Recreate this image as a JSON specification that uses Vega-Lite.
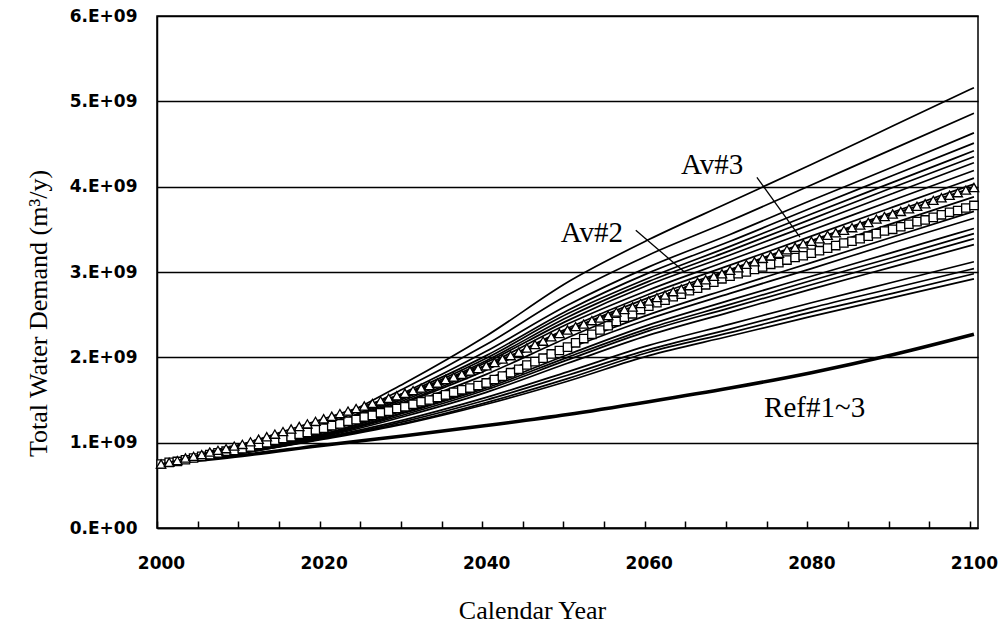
{
"$schema": "https://vega.github.io/schema/vega-lite/v6.json",
"width": 821, "height": 512,
"autosize": "none",
"padding": {"left": 157, "top": 16, "right": 25, "bottom": 103},
"background": "white",
"config": {
  "view": {"stroke": "black", "strokeWidth": 1.5},
  "axis": {"labelFont": "DejaVu Sans", "labelFontWeight": "bold", "labelFontSize": 17, "labelColor": "black",
           "titleFont": "Liberation Serif", "titleFontWeight": "normal", "titleColor": "black",
           "domainColor": "black", "domainWidth": 1.5, "tickColor": "black", "tickWidth": 1.5}
},
"datasets": {
"thin": [
{"s":"L1","year":2000,"value":0.75e9},{"s":"L1","year":2010,"value":0.95e9},{"s":"L1","year":2020,"value":1.22e9},{"s":"L1","year":2030,"value":1.70e9},{"s":"L1","year":2040,"value":2.25e9},{"s":"L1","year":2050,"value":2.88e9},{"s":"L1","year":2060,"value":3.38e9},{"s":"L1","year":2070,"value":3.82e9},{"s":"L1","year":2080,"value":4.26e9},{"s":"L1","year":2090,"value":4.71e9},{"s":"L1","year":2100,"value":5.16e9},
{"s":"L2","year":2000,"value":0.75e9},{"s":"L2","year":2010,"value":0.94e9},{"s":"L2","year":2020,"value":1.20e9},{"s":"L2","year":2030,"value":1.64e9},{"s":"L2","year":2040,"value":2.15e9},{"s":"L2","year":2050,"value":2.73e9},{"s":"L2","year":2060,"value":3.20e9},{"s":"L2","year":2070,"value":3.60e9},{"s":"L2","year":2080,"value":4.02e9},{"s":"L2","year":2090,"value":4.44e9},{"s":"L2","year":2100,"value":4.86e9},
{"s":"L3","year":2000,"value":0.75e9},{"s":"L3","year":2010,"value":0.93e9},{"s":"L3","year":2020,"value":1.18e9},{"s":"L3","year":2030,"value":1.59e9},{"s":"L3","year":2040,"value":2.07e9},{"s":"L3","year":2050,"value":2.61e9},{"s":"L3","year":2060,"value":3.06e9},{"s":"L3","year":2070,"value":3.44e9},{"s":"L3","year":2080,"value":3.84e9},{"s":"L3","year":2090,"value":4.23e9},{"s":"L3","year":2100,"value":4.63e9},
{"s":"L4","year":2000,"value":0.75e9},{"s":"L4","year":2010,"value":0.93e9},{"s":"L4","year":2020,"value":1.17e9},{"s":"L4","year":2030,"value":1.57e9},{"s":"L4","year":2040,"value":2.02e9},{"s":"L4","year":2050,"value":2.55e9},{"s":"L4","year":2060,"value":2.99e9},{"s":"L4","year":2070,"value":3.36e9},{"s":"L4","year":2080,"value":3.75e9},{"s":"L4","year":2090,"value":4.13e9},{"s":"L4","year":2100,"value":4.51e9},
{"s":"L5","year":2000,"value":0.75e9},{"s":"L5","year":2010,"value":0.93e9},{"s":"L5","year":2020,"value":1.16e9},{"s":"L5","year":2030,"value":1.55e9},{"s":"L5","year":2040,"value":1.99e9},{"s":"L5","year":2050,"value":2.51e9},{"s":"L5","year":2060,"value":2.93e9},{"s":"L5","year":2070,"value":3.30e9},{"s":"L5","year":2080,"value":3.68e9},{"s":"L5","year":2090,"value":4.05e9},{"s":"L5","year":2100,"value":4.42e9},
{"s":"L6","year":2000,"value":0.75e9},{"s":"L6","year":2010,"value":0.92e9},{"s":"L6","year":2020,"value":1.15e9},{"s":"L6","year":2030,"value":1.53e9},{"s":"L6","year":2040,"value":1.96e9},{"s":"L6","year":2050,"value":2.47e9},{"s":"L6","year":2060,"value":2.89e9},{"s":"L6","year":2070,"value":3.25e9},{"s":"L6","year":2080,"value":3.62e9},{"s":"L6","year":2090,"value":3.99e9},{"s":"L6","year":2100,"value":4.35e9},
{"s":"L7","year":2000,"value":0.75e9},{"s":"L7","year":2010,"value":0.92e9},{"s":"L7","year":2020,"value":1.15e9},{"s":"L7","year":2030,"value":1.52e9},{"s":"L7","year":2040,"value":1.94e9},{"s":"L7","year":2050,"value":2.43e9},{"s":"L7","year":2060,"value":2.85e9},{"s":"L7","year":2070,"value":3.20e9},{"s":"L7","year":2080,"value":3.56e9},{"s":"L7","year":2090,"value":3.92e9},{"s":"L7","year":2100,"value":4.28e9},
{"s":"L8","year":2000,"value":0.75e9},{"s":"L8","year":2010,"value":0.92e9},{"s":"L8","year":2020,"value":1.14e9},{"s":"L8","year":2030,"value":1.50e9},{"s":"L8","year":2040,"value":1.91e9},{"s":"L8","year":2050,"value":2.39e9},{"s":"L8","year":2060,"value":2.79e9},{"s":"L8","year":2070,"value":3.14e9},{"s":"L8","year":2080,"value":3.49e9},{"s":"L8","year":2090,"value":3.84e9},{"s":"L8","year":2100,"value":4.19e9},
{"s":"L9","year":2000,"value":0.75e9},{"s":"L9","year":2010,"value":0.92e9},{"s":"L9","year":2020,"value":1.13e9},{"s":"L9","year":2030,"value":1.48e9},{"s":"L9","year":2040,"value":1.88e9},{"s":"L9","year":2050,"value":2.34e9},{"s":"L9","year":2060,"value":2.74e9},{"s":"L9","year":2070,"value":3.08e9},{"s":"L9","year":2080,"value":3.42e9},{"s":"L9","year":2090,"value":3.76e9},{"s":"L9","year":2100,"value":4.10e9},
{"s":"L10","year":2000,"value":0.75e9},{"s":"L10","year":2010,"value":0.91e9},{"s":"L10","year":2020,"value":1.13e9},{"s":"L10","year":2030,"value":1.47e9},{"s":"L10","year":2040,"value":1.85e9},{"s":"L10","year":2050,"value":2.31e9},{"s":"L10","year":2060,"value":2.70e9},{"s":"L10","year":2070,"value":3.03e9},{"s":"L10","year":2080,"value":3.37e9},{"s":"L10","year":2090,"value":3.70e9},{"s":"L10","year":2100,"value":4.03e9},
{"s":"L11","year":2000,"value":0.75e9},{"s":"L11","year":2010,"value":0.91e9},{"s":"L11","year":2020,"value":1.12e9},{"s":"L11","year":2030,"value":1.44e9},{"s":"L11","year":2040,"value":1.80e9},{"s":"L11","year":2050,"value":2.23e9},{"s":"L11","year":2060,"value":2.61e9},{"s":"L11","year":2070,"value":2.93e9},{"s":"L11","year":2080,"value":3.25e9},{"s":"L11","year":2090,"value":3.57e9},{"s":"L11","year":2100,"value":3.88e9},
{"s":"L12","year":2000,"value":0.75e9},{"s":"L12","year":2010,"value":0.90e9},{"s":"L12","year":2020,"value":1.10e9},{"s":"L12","year":2030,"value":1.40e9},{"s":"L12","year":2040,"value":1.74e9},{"s":"L12","year":2050,"value":2.14e9},{"s":"L12","year":2060,"value":2.50e9},{"s":"L12","year":2070,"value":2.81e9},{"s":"L12","year":2080,"value":3.11e9},{"s":"L12","year":2090,"value":3.41e9},{"s":"L12","year":2100,"value":3.71e9},
{"s":"L13","year":2000,"value":0.75e9},{"s":"L13","year":2010,"value":0.90e9},{"s":"L13","year":2020,"value":1.10e9},{"s":"L13","year":2030,"value":1.38e9},{"s":"L13","year":2040,"value":1.71e9},{"s":"L13","year":2050,"value":2.10e9},{"s":"L13","year":2060,"value":2.45e9},{"s":"L13","year":2070,"value":2.75e9},{"s":"L13","year":2080,"value":3.04e9},{"s":"L13","year":2090,"value":3.34e9},{"s":"L13","year":2100,"value":3.63e9},
{"s":"L14","year":2000,"value":0.75e9},{"s":"L14","year":2010,"value":0.90e9},{"s":"L14","year":2020,"value":1.09e9},{"s":"L14","year":2030,"value":1.36e9},{"s":"L14","year":2040,"value":1.66e9},{"s":"L14","year":2050,"value":2.03e9},{"s":"L14","year":2060,"value":2.38e9},{"s":"L14","year":2070,"value":2.67e9},{"s":"L14","year":2080,"value":2.95e9},{"s":"L14","year":2090,"value":3.23e9},{"s":"L14","year":2100,"value":3.51e9},
{"s":"L15","year":2000,"value":0.75e9},{"s":"L15","year":2010,"value":0.90e9},{"s":"L15","year":2020,"value":1.08e9},{"s":"L15","year":2030,"value":1.35e9},{"s":"L15","year":2040,"value":1.64e9},{"s":"L15","year":2050,"value":2.00e9},{"s":"L15","year":2060,"value":2.34e9},{"s":"L15","year":2070,"value":2.62e9},{"s":"L15","year":2080,"value":2.90e9},{"s":"L15","year":2090,"value":3.17e9},{"s":"L15","year":2100,"value":3.45e9},
{"s":"L16","year":2000,"value":0.75e9},{"s":"L16","year":2010,"value":0.89e9},{"s":"L16","year":2020,"value":1.08e9},{"s":"L16","year":2030,"value":1.33e9},{"s":"L16","year":2040,"value":1.62e9},{"s":"L16","year":2050,"value":1.97e9},{"s":"L16","year":2060,"value":2.31e9},{"s":"L16","year":2070,"value":2.58e9},{"s":"L16","year":2080,"value":2.85e9},{"s":"L16","year":2090,"value":3.12e9},{"s":"L16","year":2100,"value":3.39e9},
{"s":"L17","year":2000,"value":0.75e9},{"s":"L17","year":2010,"value":0.89e9},{"s":"L17","year":2020,"value":1.07e9},{"s":"L17","year":2030,"value":1.31e9},{"s":"L17","year":2040,"value":1.59e9},{"s":"L17","year":2050,"value":1.93e9},{"s":"L17","year":2060,"value":2.26e9},{"s":"L17","year":2070,"value":2.53e9},{"s":"L17","year":2080,"value":2.80e9},{"s":"L17","year":2090,"value":3.06e9},{"s":"L17","year":2100,"value":3.32e9},
{"s":"L18","year":2000,"value":0.75e9},{"s":"L18","year":2010,"value":0.89e9},{"s":"L18","year":2020,"value":1.06e9},{"s":"L18","year":2030,"value":1.27e9},{"s":"L18","year":2040,"value":1.53e9},{"s":"L18","year":2050,"value":1.83e9},{"s":"L18","year":2060,"value":2.14e9},{"s":"L18","year":2070,"value":2.39e9},{"s":"L18","year":2080,"value":2.64e9},{"s":"L18","year":2090,"value":2.88e9},{"s":"L18","year":2100,"value":3.12e9},
{"s":"L19","year":2000,"value":0.75e9},{"s":"L19","year":2010,"value":0.88e9},{"s":"L19","year":2020,"value":1.05e9},{"s":"L19","year":2030,"value":1.25e9},{"s":"L19","year":2040,"value":1.50e9},{"s":"L19","year":2050,"value":1.79e9},{"s":"L19","year":2060,"value":2.09e9},{"s":"L19","year":2070,"value":2.33e9},{"s":"L19","year":2080,"value":2.58e9},{"s":"L19","year":2090,"value":2.81e9},{"s":"L19","year":2100,"value":3.04e9},
{"s":"L20","year":2000,"value":0.75e9},{"s":"L20","year":2010,"value":0.88e9},{"s":"L20","year":2020,"value":1.05e9},{"s":"L20","year":2030,"value":1.23e9},{"s":"L20","year":2040,"value":1.47e9},{"s":"L20","year":2050,"value":1.75e9},{"s":"L20","year":2060,"value":2.06e9},{"s":"L20","year":2070,"value":2.29e9},{"s":"L20","year":2080,"value":2.53e9},{"s":"L20","year":2090,"value":2.75e9},{"s":"L20","year":2100,"value":2.98e9},
{"s":"L21","year":2000,"value":0.75e9},{"s":"L21","year":2010,"value":0.88e9},{"s":"L21","year":2020,"value":1.04e9},{"s":"L21","year":2030,"value":1.22e9},{"s":"L21","year":2040,"value":1.45e9},{"s":"L21","year":2050,"value":1.72e9},{"s":"L21","year":2060,"value":2.02e9},{"s":"L21","year":2070,"value":2.25e9},{"s":"L21","year":2080,"value":2.48e9},{"s":"L21","year":2090,"value":2.70e9},{"s":"L21","year":2100,"value":2.92e9}
],
"ref": [
{"year":2000,"value":0.75e9},{"year":2010,"value":0.85e9},{"year":2020,"value":0.97e9},{"year":2030,"value":1.08e9},{"year":2040,"value":1.20e9},{"year":2050,"value":1.33e9},{"year":2060,"value":1.48e9},{"year":2070,"value":1.64e9},{"year":2080,"value":1.82e9},{"year":2090,"value":2.03e9},{"year":2100,"value":2.27e9}
],
"av2": [
{"year":2000,"value":0.75e9},{"year":2001,"value":0.77e9},{"year":2002,"value":0.78e9},{"year":2003,"value":0.80e9},{"year":2004,"value":0.82e9},{"year":2005,"value":0.84e9},{"year":2006,"value":0.86e9},{"year":2007,"value":0.88e9},{"year":2008,"value":0.90e9},{"year":2009,"value":0.91e9},
{"year":2010,"value":0.93e9},{"year":2011,"value":0.95e9},{"year":2012,"value":0.98e9},{"year":2013,"value":1.00e9},{"year":2014,"value":1.03e9},{"year":2015,"value":1.05e9},{"year":2016,"value":1.07e9},{"year":2017,"value":1.10e9},{"year":2018,"value":1.12e9},{"year":2019,"value":1.15e9},
{"year":2020,"value":1.17e9},{"year":2021,"value":1.20e9},{"year":2022,"value":1.22e9},{"year":2023,"value":1.25e9},{"year":2024,"value":1.27e9},{"year":2025,"value":1.30e9},{"year":2026,"value":1.32e9},{"year":2027,"value":1.35e9},{"year":2028,"value":1.37e9},{"year":2029,"value":1.40e9},
{"year":2030,"value":1.42e9},{"year":2031,"value":1.45e9},{"year":2032,"value":1.48e9},{"year":2033,"value":1.50e9},{"year":2034,"value":1.53e9},{"year":2035,"value":1.56e9},{"year":2036,"value":1.59e9},{"year":2037,"value":1.62e9},{"year":2038,"value":1.64e9},{"year":2039,"value":1.67e9},
{"year":2040,"value":1.70e9},{"year":2041,"value":1.74e9},{"year":2042,"value":1.78e9},{"year":2043,"value":1.82e9},{"year":2044,"value":1.86e9},{"year":2045,"value":1.91e9},{"year":2046,"value":1.95e9},{"year":2047,"value":1.99e9},{"year":2048,"value":2.04e9},{"year":2049,"value":2.08e9},
{"year":2050,"value":2.12e9},{"year":2051,"value":2.17e9},{"year":2052,"value":2.22e9},{"year":2053,"value":2.27e9},{"year":2054,"value":2.32e9},{"year":2055,"value":2.37e9},{"year":2056,"value":2.42e9},{"year":2057,"value":2.47e9},{"year":2058,"value":2.51e9},{"year":2059,"value":2.56e9},
{"year":2060,"value":2.60e9},{"year":2061,"value":2.64e9},{"year":2062,"value":2.67e9},{"year":2063,"value":2.71e9},{"year":2064,"value":2.74e9},{"year":2065,"value":2.78e9},{"year":2066,"value":2.81e9},{"year":2067,"value":2.85e9},{"year":2068,"value":2.88e9},{"year":2069,"value":2.92e9},
{"year":2070,"value":2.95e9},{"year":2071,"value":2.98e9},{"year":2072,"value":3.00e9},{"year":2073,"value":3.03e9},{"year":2074,"value":3.06e9},{"year":2075,"value":3.09e9},{"year":2076,"value":3.11e9},{"year":2077,"value":3.14e9},{"year":2078,"value":3.17e9},{"year":2079,"value":3.19e9},
{"year":2080,"value":3.22e9},{"year":2081,"value":3.25e9},{"year":2082,"value":3.28e9},{"year":2083,"value":3.31e9},{"year":2084,"value":3.34e9},{"year":2085,"value":3.36e9},{"year":2086,"value":3.39e9},{"year":2087,"value":3.42e9},{"year":2088,"value":3.45e9},{"year":2089,"value":3.48e9},
{"year":2090,"value":3.50e9},{"year":2091,"value":3.53e9},{"year":2092,"value":3.56e9},{"year":2093,"value":3.59e9},{"year":2094,"value":3.61e9},{"year":2095,"value":3.64e9},{"year":2096,"value":3.67e9},{"year":2097,"value":3.70e9},{"year":2098,"value":3.72e9},{"year":2099,"value":3.75e9},
{"year":2100,"value":3.78e9}
],
"av3": [
{"year":2000,"value":0.75e9},{"year":2001,"value":0.77e9},{"year":2002,"value":0.79e9},{"year":2003,"value":0.82e9},{"year":2004,"value":0.84e9},{"year":2005,"value":0.86e9},{"year":2006,"value":0.89e9},{"year":2007,"value":0.91e9},{"year":2008,"value":0.93e9},{"year":2009,"value":0.96e9},
{"year":2010,"value":0.98e9},{"year":2011,"value":1.01e9},{"year":2012,"value":1.04e9},{"year":2013,"value":1.07e9},{"year":2014,"value":1.10e9},{"year":2015,"value":1.13e9},{"year":2016,"value":1.16e9},{"year":2017,"value":1.19e9},{"year":2018,"value":1.22e9},{"year":2019,"value":1.25e9},
{"year":2020,"value":1.28e9},{"year":2021,"value":1.31e9},{"year":2022,"value":1.34e9},{"year":2023,"value":1.37e9},{"year":2024,"value":1.40e9},{"year":2025,"value":1.43e9},{"year":2026,"value":1.46e9},{"year":2027,"value":1.49e9},{"year":2028,"value":1.52e9},{"year":2029,"value":1.55e9},
{"year":2030,"value":1.58e9},{"year":2031,"value":1.61e9},{"year":2032,"value":1.64e9},{"year":2033,"value":1.67e9},{"year":2034,"value":1.70e9},{"year":2035,"value":1.74e9},{"year":2036,"value":1.77e9},{"year":2037,"value":1.80e9},{"year":2038,"value":1.84e9},{"year":2039,"value":1.87e9},
{"year":2040,"value":1.90e9},{"year":2041,"value":1.94e9},{"year":2042,"value":1.98e9},{"year":2043,"value":2.02e9},{"year":2044,"value":2.06e9},{"year":2045,"value":2.11e9},{"year":2046,"value":2.15e9},{"year":2047,"value":2.19e9},{"year":2048,"value":2.24e9},{"year":2049,"value":2.28e9},
{"year":2050,"value":2.32e9},{"year":2051,"value":2.36e9},{"year":2052,"value":2.39e9},{"year":2053,"value":2.43e9},{"year":2054,"value":2.46e9},{"year":2055,"value":2.49e9},{"year":2056,"value":2.53e9},{"year":2057,"value":2.56e9},{"year":2058,"value":2.59e9},{"year":2059,"value":2.63e9},
{"year":2060,"value":2.66e9},{"year":2061,"value":2.70e9},{"year":2062,"value":2.73e9},{"year":2063,"value":2.77e9},{"year":2064,"value":2.80e9},{"year":2065,"value":2.84e9},{"year":2066,"value":2.88e9},{"year":2067,"value":2.91e9},{"year":2068,"value":2.95e9},{"year":2069,"value":2.98e9},
{"year":2070,"value":3.02e9},{"year":2071,"value":3.05e9},{"year":2072,"value":3.09e9},{"year":2073,"value":3.12e9},{"year":2074,"value":3.16e9},{"year":2075,"value":3.19e9},{"year":2076,"value":3.22e9},{"year":2077,"value":3.26e9},{"year":2078,"value":3.29e9},{"year":2079,"value":3.33e9},
{"year":2080,"value":3.36e9},{"year":2081,"value":3.39e9},{"year":2082,"value":3.43e9},{"year":2083,"value":3.46e9},{"year":2084,"value":3.49e9},{"year":2085,"value":3.52e9},{"year":2086,"value":3.55e9},{"year":2087,"value":3.58e9},{"year":2088,"value":3.62e9},{"year":2089,"value":3.65e9},
{"year":2090,"value":3.68e9},{"year":2091,"value":3.71e9},{"year":2092,"value":3.74e9},{"year":2093,"value":3.77e9},{"year":2094,"value":3.80e9},{"year":2095,"value":3.84e9},{"year":2096,"value":3.87e9},{"year":2097,"value":3.90e9},{"year":2098,"value":3.93e9},{"year":2099,"value":3.96e9},
{"year":2100,"value":3.99e9}
],
"notes": [
{"label":"Av#3","year":2067.8,"value":4.25e9},
{"label":"Av#2","year":2053.0,"value":3.46e9},
{"label":"Ref#1~3","year":2080.4,"value":1.41e9}
],
"arrows": [
{"label":"Av#3","year":2073.3,"value":4.11e9,"year2":2078.6,"value2":3.41e9},
{"label":"Av#2","year":2058.4,"value":3.49e9,"year2":2064.5,"value2":2.99e9}
]
},
"encoding": {
  "x": {"field": "year", "type": "quantitative",
        "scale": {"domain": [1999.5, 2100.5], "nice": false, "zero": false},
        "axis": {"title": "Calendar Year", "titleFontSize": 26, "titleX": 375, "titleY": 82, "titleBaseline": "middle", "titleAlign": "center",
                 "values": [1999.5,2004.5,2009.5,2014.5,2019.5,2024.5,2029.5,2034.5,2039.5,2044.5,2049.5,2054.5,2059.5,2064.5,2069.5,2074.5,2079.5,2084.5,2089.5,2094.5,2099.5],
                 "labelExpr": "(datum.value + 0.5) % 20 === 0 ? format(datum.value + 0.5, 'd') : ''",
                 "labelOffset": 4, "labelFlush": false, "labelOverlap": false, "labelBound": false,
                 "tickSize": -7, "labelPadding": 34, "grid": false}},
  "y": {"field": "value", "type": "quantitative",
        "scale": {"domain": [0, 6e9], "nice": false},
        "axis": {"title": "Total Water Demand (m³/y)", "titleFontSize": 26, "titleX": -119, "titleY": 297, "titleAngle": 270, "titleBaseline": "middle", "titleAlign": "center",
                 "values": [0,1e9,2e9,3e9,4e9,5e9,6e9],
                 "labelExpr": "datum.value === 0 ? '0.E+00' : format(datum.value / 1e9, 'd') + '.E+09'",
                 "grid": true, "gridColor": "black", "gridWidth": 1.5, "gridOpacity": 1,
                 "ticks": false, "labelPadding": 20}}
},
"layer": [
  {"data": {"name": "thin"}, "mark": {"type": "line", "color": "black", "strokeWidth": 1.7, "interpolate": "monotone"},
   "encoding": {"detail": {"field": "s"}}},
  {"data": {"name": "ref"}, "mark": {"type": "line", "color": "black", "strokeWidth": 3.5, "interpolate": "monotone"}},
  {"data": {"name": "av2"}, "mark": {"type": "line", "color": "black", "strokeWidth": 1.7}},
  {"data": {"name": "av2"}, "mark": {"type": "point", "shape": "square", "size": 70, "filled": true, "fill": "white", "stroke": "black", "strokeWidth": 1.3, "opacity": 1}},
  {"data": {"name": "av3"}, "mark": {"type": "line", "color": "black", "strokeWidth": 1.7}},
  {"data": {"name": "av3"}, "mark": {"type": "point", "shape": "triangle-up", "size": 90, "filled": true, "fill": "white", "stroke": "black", "strokeWidth": 1.3, "opacity": 1}},
  {"data": {"name": "arrows"}, "mark": {"type": "rule", "color": "black", "strokeWidth": 1.3},
   "encoding": {"x2": {"field": "year2"}, "y2": {"field": "value2"}}},
  {"data": {"name": "notes"}, "mark": {"type": "text", "font": "Liberation Serif", "fontSize": 29, "color": "black", "align": "center", "baseline": "middle"},
   "encoding": {"text": {"field": "label"}}}
]
}
